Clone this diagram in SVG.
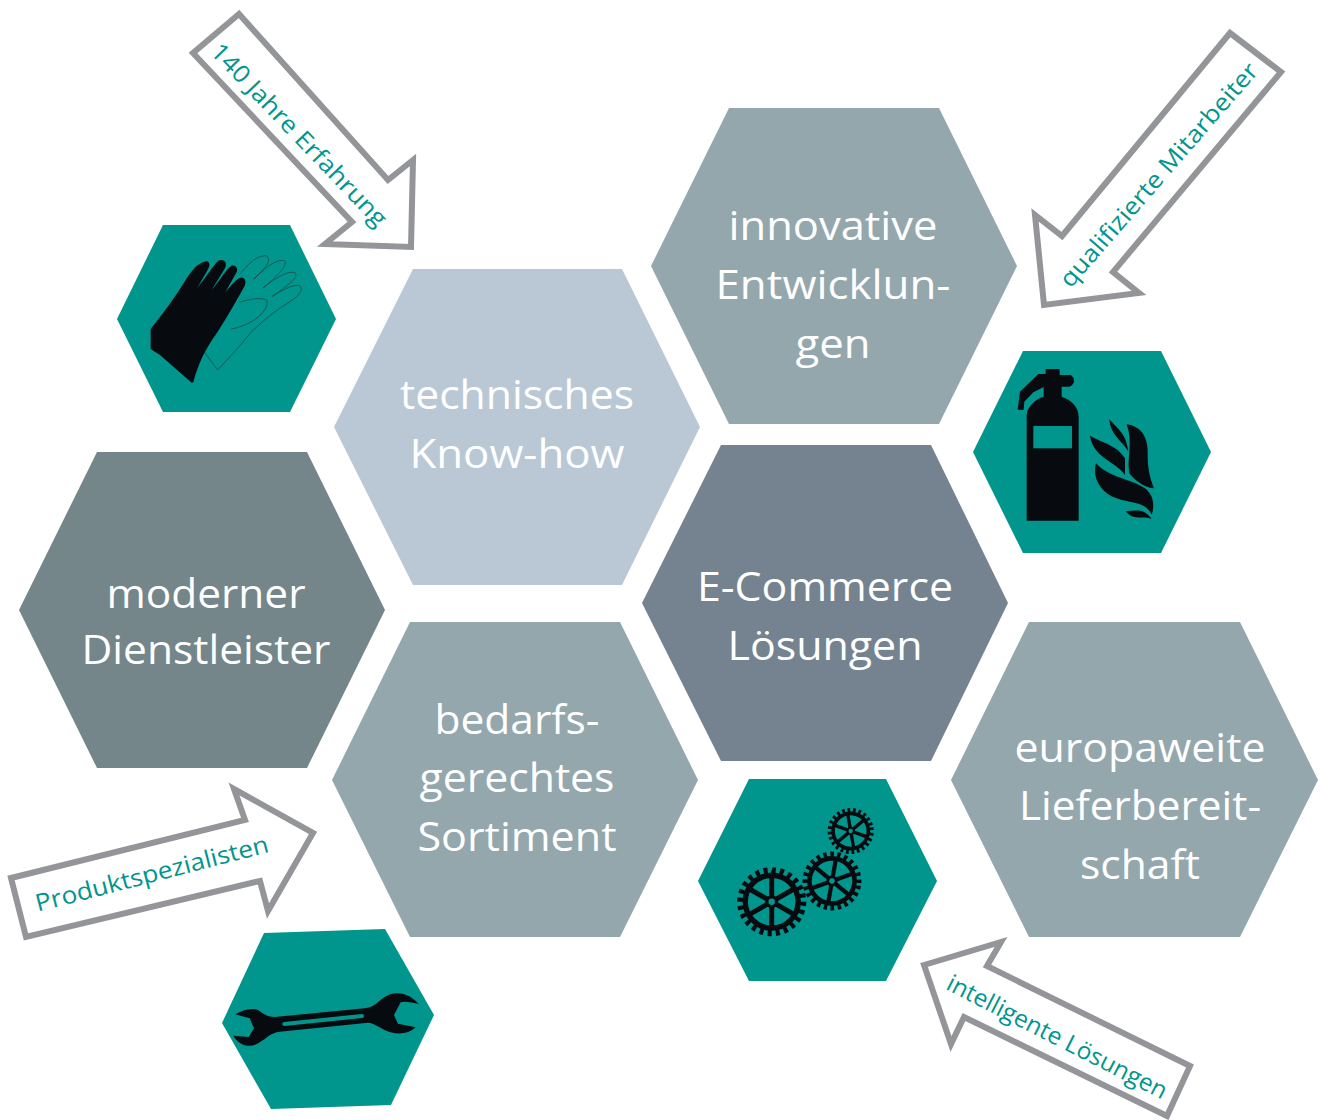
<svg xmlns="http://www.w3.org/2000/svg" xmlns:xlink="http://www.w3.org/1999/xlink" width="1320" height="1120" viewBox="0 0 1320 1120">
<style>
.t{font-family:"Open Sans","Noto Sans",sans-serif;font-size:41px;fill:#fff;text-anchor:middle}
.s{font-family:"Open Sans","Noto Sans",sans-serif;font-size:24px;fill:#00958d;text-anchor:middle}
.a{fill:#fff;stroke:#939598;stroke-width:6;stroke-linejoin:miter}
.k{fill:#070b0f}
.tl{fill:#00958d}
</style>
<defs>
<g id="gear">
<circle r="29" fill="none" stroke="#070b0f" stroke-width="6" pathLength="48" stroke-dasharray="1 1"/>
<circle r="24.5" fill="none" stroke="#070b0f" stroke-width="5"/>
<g stroke="#070b0f" stroke-width="4.6"><line x1="0" y1="-24" x2="0" y2="24"/><line x1="-21" y1="-12" x2="21" y2="12"/><line x1="-21" y1="12" x2="21" y2="-12"/></g>
<circle r="4.5" fill="#00958d" stroke="#070b0f" stroke-width="3"/>
</g>
</defs>
<rect width="1320" height="1120" fill="#fff"/>
<g id="hex-technisches"><polygon points="413,269 622,269 700,427 622,585 413,585 334,427" fill="#bac8d5"/><text class="t" x="517" y="409" textLength="234" lengthAdjust="spacingAndGlyphs">technisches</text><text class="t" x="517" y="468" textLength="215" lengthAdjust="spacingAndGlyphs">Know-how</text></g>
<g id="hex-innovative"><polygon points="729,108 939,108 1017,266 939,424 729,424 651,266" fill="#94a7ad"/><text class="t" x="833" y="240" textLength="209" lengthAdjust="spacingAndGlyphs">innovative</text><text class="t" x="833" y="299" textLength="235" lengthAdjust="spacingAndGlyphs">Entwicklun-</text><text class="t" x="833" y="358" textLength="75" lengthAdjust="spacingAndGlyphs">gen</text></g>
<g id="hex-ecommerce"><polygon points="721,445 931,445 1008,603 931,761 721,761 642,603" fill="#74838f"/><text class="t" x="825" y="601" textLength="256" lengthAdjust="spacingAndGlyphs">E-Commerce</text><text class="t" x="825" y="660" textLength="195" lengthAdjust="spacingAndGlyphs">Lösungen</text></g>
<g id="hex-moderner"><polygon points="97,452 307,452 385,610 307,768 97,768 19,610" fill="#74868a"/><text class="t" x="206" y="608" textLength="199" lengthAdjust="spacingAndGlyphs">moderner</text><text class="t" x="206" y="664" textLength="249" lengthAdjust="spacingAndGlyphs">Dienstleister</text></g>
<g id="hex-bedarfs"><polygon points="410,622 620,622 698,780 620,937 410,937 332,780" fill="#94a7ad"/><text class="t" x="517" y="734" textLength="165" lengthAdjust="spacingAndGlyphs">bedarfs-</text><text class="t" x="517" y="792" textLength="195" lengthAdjust="spacingAndGlyphs">gerechtes</text><text class="t" x="517" y="851" textLength="199" lengthAdjust="spacingAndGlyphs">Sortiment</text></g>
<g id="hex-europaweite"><polygon points="1029,622 1240,622 1318,780 1240,937 1029,937 951,780" fill="#94a7ad"/><text class="t" x="1140" y="762" textLength="251" lengthAdjust="spacingAndGlyphs">europaweite</text><text class="t" x="1140" y="820" textLength="242" lengthAdjust="spacingAndGlyphs">Lieferbereit-</text><text class="t" x="1140" y="879" textLength="120" lengthAdjust="spacingAndGlyphs">schaft</text></g>

<g id="icon-gloves"><polygon class="tl" points="163,225 290,225 336,319 290,412 163,412 117,319"/>
<g transform="translate(110,220) scale(.3333)">
<path d="M388,165C410,140 430,110 465,107C490,112 470,145 430,177M432,177C460,150 490,120 520,121C535,125 525,150 460,203M460,203C490,180 530,150 555,158C565,170 550,185 487,229M487,229C510,215 550,190 570,197C580,210 570,225 540,245C500,270 460,300 420,340C385,385 355,415 323,450L284,397M387,247C410,240 450,230 470,240C480,270 430,315 364,327" fill="none" stroke="#1f3b3d" stroke-width="2"/>
<path class="k" d="M122,328C150,290 185,250 230,175C250,145 270,125 290,124C302,127 300,140 290,155L262,203C290,170 310,135 325,122C345,115 352,130 345,145L305,210C330,180 350,145 365,137C385,135 385,155 375,165L345,218C365,195 385,170 398,173C410,178 408,192 400,205C370,260 340,310 320,340C285,390 265,430 250,487L245,488L150,405L122,387Z"/>
</g></g>
<g id="icon-extinguisher"><polygon class="tl" points="1023,351 1161,351 1211,452 1161,553 1023,553 973,452"/>
<g transform="translate(970,345) scale(.3333)">
<path class="k" d="M170,527L170,210C172,185 195,162 221,155L221,126L190,142L163,170L161,195L143,194L150,140L205,87L227,87L227,72L269,72L269,90L303,90Q313,98 312,110Q308,122 298,125L275,125L275,155C305,165 325,185 326,215L326,527Z"/>
<rect x="190" y="243" width="116" height="67" fill="#00958d"/>
<path class="k" d="M418,222C440,250 470,265 475,320C460,290 420,270 418,222Z"/>
<path class="k" d="M470,238C520,245 535,285 533,330C533,370 540,400 552,430C520,430 490,400 478,385C470,340 490,290 470,238Z"/>
<path class="k" d="M360,272C400,295 440,300 465,340L465,390C440,350 370,340 360,272Z"/>
<path class="k" d="M378,355C420,400 480,400 525,430C550,450 555,480 545,510C530,470 480,475 440,460C395,445 365,400 378,355Z"/>
<path class="k" d="M467,498C490,500 520,485 545,522C520,510 490,530 467,498Z"/>
</g></g>
<g id="icon-gears"><polygon class="tl" points="749,779 886,779 937,881 886,981 749,981 698,881"/>
<use xlink:href="#gear" href="#gear" transform="translate(771.7,901.7) scale(1.08)"/>
<use xlink:href="#gear" href="#gear" transform="translate(832,881) scale(.92) rotate(10)"/>
<use xlink:href="#gear" href="#gear" transform="translate(850.7,831) scale(.72) rotate(-10)"/>
</g>
<g id="icon-wrench"><polygon class="tl" points="264,933 385,929 434,1015 391,1105 271,1109 222,1023"/>
<g transform="translate(218,925) scale(.3333)">
<path class="k" d="M52,268C75,255 105,245 125,258C140,270 150,275 170,276L440,250C465,248 475,235 495,220C520,200 565,195 603,238C585,232 560,228 548,232L528,270L540,296L593,307C570,330 530,330 500,315C480,305 470,295 450,293L185,320C160,322 145,340 125,352C100,370 65,365 46,332L92,336L108,310L95,280Z"/>
<line x1="199" y1="297" x2="432" y2="273" stroke="#00958d" stroke-width="12" stroke-linecap="round"/>
</g></g>

<g id="connectors">
<polygon class="a" points="239,14 193,53 352,222 325,244 411,247 413,160 388,180"/>
<polygon class="a" points="1230,33 1281,72 1113,272 1139,293 1044,305 1035,215 1062,236"/>
<polygon class="a" points="11,878 245,820 234,789 313,833 268,911 260,881 26,937"/>
<polygon class="a" points="924,965 1001,942 987,966 1190,1066 1167,1116 964,1017 951,1044"/>
<text class="s" transform="translate(299,135) rotate(46.3)" y="8" textLength="243" lengthAdjust="spacingAndGlyphs">140 Jahre Erfahrung</text>
<text class="s" transform="translate(1159,175) rotate(-49)" y="8" textLength="288" lengthAdjust="spacingAndGlyphs">qualifizierte Mitarbeiter</text>
<text class="s" transform="translate(152,874) rotate(-14.5)" y="8" textLength="240" lengthAdjust="spacingAndGlyphs">Produktspezialisten</text>
<text class="s" transform="translate(1057,1037) rotate(27)" y="8" textLength="244" lengthAdjust="spacingAndGlyphs">intelligente Lösungen</text>
</g>
</svg>
